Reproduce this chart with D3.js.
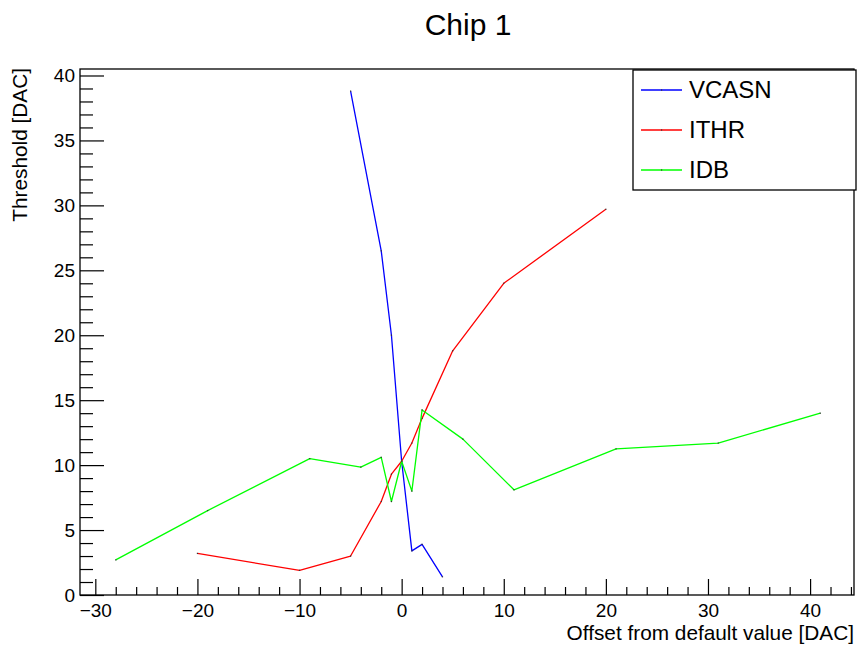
<!DOCTYPE html>
<html>
<head>
<meta charset="utf-8">
<script src="https://cdn.jsdelivr.net/npm/d3@7"></script>
<style>
  body { margin: 0; background: #fff; }
  svg { display: block; font-family: "Liberation Sans", Arial, Helvetica, sans-serif; }
</style>
</head>
<body>
<div id="chart"></div>
<script>
// --- data ---
var vcasnX = [-5, -2, -1, 0, 1, 2, 4];
var vcasnY = [38.8, 26.5, 20.0, 10.3, 3.4, 3.9, 1.4];

var ithrX = [-20, -10, -5, -2, -1, 0, 1, 2, 5, 10, 20];
var ithrY = [3.2, 1.9, 3.0, 7.2, 9.3, 10.3, 11.7, 13.6, 18.8, 24.0, 29.7];

var idbX = [-28, -19, -9, -4, -2, -1, 0, 1, 2, 6, 11, 21, 31, 41];
var idbY = [2.7, 6.5, 10.5, 9.85, 10.6, 7.2, 10.3, 8.0, 14.25, 12.0, 8.1, 11.25, 11.7, 14.0];

var seriesNames = ["VCASN", "ITHR", "IDB"];
var seriesColors = ["#0000ff", "#ff0000", "#00ff00"];

var xMajorTicks = [-30, -20, -10, 0, 10, 20, 30, 40];
var yMajorTicks = [0, 5, 10, 15, 20, 25, 30, 35, 40];

// --- setup ---
var width = 859, height = 646;
var frame = { left: 80, right: 854, top: 69, bottom: 595 };

var svg = d3.select("#chart").append("svg")
  .attr("width", width)
  .attr("height", height);

var x = d3.scaleLinear().domain([-31.5, 44.3]).range([frame.left, frame.right]);
var y = d3.scaleLinear().domain([0, 40.5]).range([frame.bottom, frame.top]);

// minor ticks: every 2 on x, every 1 on y
var xMinor = d3.range(-30, 45, 2).filter(function(v) { return v % 10 !== 0 && v >= x.domain()[0] && v <= x.domain()[1]; });
var yMinor = d3.range(0, 41, 1).filter(function(v) { return v % 5 !== 0; });

// --- axes (ROOT style, ticks point inward) ---
var xAxisG = svg.append("g").attr("transform", "translate(0," + frame.bottom + ")");
xAxisG.call(d3.axisBottom(x).tickValues(xMajorTicks).tickSize(-16).tickPadding(6));
xAxisG.append("g").call(d3.axisBottom(x).tickValues(xMinor).tickSize(-8).tickFormat(""));

var yAxisG = svg.append("g").attr("transform", "translate(" + frame.left + ",0)");
yAxisG.call(d3.axisLeft(y).tickValues(yMajorTicks).tickSize(-24).tickPadding(5));
yAxisG.append("g").call(d3.axisLeft(y).tickValues(yMinor).tickSize(-13).tickFormat(""));

svg.selectAll(".domain").remove();
svg.selectAll(".tick line").attr("stroke", "#000").attr("stroke-width", 1.2);
xAxisG.selectAll(".tick text")
  .attr("font-size", 19).attr("fill", "#000")
  .attr("dy", null).attr("y", 22);
yAxisG.selectAll(".tick text")
  .attr("font-size", 19).attr("fill", "#000")
  .attr("dy", "0.34em").attr("x", -5);

// frame
svg.append("rect")
  .attr("x", frame.left).attr("y", frame.top)
  .attr("width", frame.right - frame.left)
  .attr("height", frame.bottom - frame.top)
  .attr("fill", "none").attr("stroke", "#000").attr("stroke-width", 1.3);

// --- series ---
var line = d3.line().x(function(d) { return x(d[0]); }).y(function(d) { return y(d[1]); });
var allSeries = [d3.zip(vcasnX, vcasnY), d3.zip(ithrX, ithrY), d3.zip(idbX, idbY)];

allSeries.forEach(function(pts, i) {
  svg.append("path")
    .datum(pts)
    .attr("d", line)
    .attr("fill", "none")
    .attr("stroke", seriesColors[i])
    .attr("stroke-width", 1.3)
    .attr("stroke-linejoin", "round");
  svg.append("g").selectAll("rect")
    .data(pts)
    .enter().append("rect")
    .attr("x", function(d) { return x(d[0]) - 0.6; })
    .attr("y", function(d) { return y(d[1]) - 0.6; })
    .attr("width", 1.2).attr("height", 1.2)
    .attr("fill", "#333");
});

// --- titles ---
svg.append("text")
  .attr("x", 468).attr("y", 35)
  .attr("text-anchor", "middle")
  .attr("font-size", 30)
  .text("Chip 1");

svg.append("text")
  .attr("x", frame.right).attr("y", 640)
  .attr("text-anchor", "end")
  .attr("font-size", 20.8)
  .text("Offset from default value [DAC]");

svg.append("text")
  .attr("transform", "translate(27," + (frame.top - 1) + ") rotate(-90)")
  .attr("text-anchor", "end")
  .attr("font-size", 20.8)
  .text("Threshold [DAC]");

// --- legend ---
var legend = svg.append("g");
legend.append("rect")
  .attr("x", 633).attr("y", 70)
  .attr("width", 223).attr("height", 120)
  .attr("fill", "#fff").attr("stroke", "#000").attr("stroke-width", 1.3);

seriesNames.forEach(function(name, i) {
  var ly = 90 + i * 40;
  legend.append("line")
    .attr("x1", 641).attr("x2", 682)
    .attr("y1", ly).attr("y2", ly)
    .attr("stroke", seriesColors[i]).attr("stroke-width", 1.5);
  legend.append("rect")
    .attr("x", 661).attr("y", ly - 0.6)
    .attr("width", 1.2).attr("height", 1.2).attr("fill", "#333");
  legend.append("text")
    .attr("x", 689).attr("y", ly + 8)
    .attr("font-size", 24)
    .text(name);
});
</script>
</body>
</html>
